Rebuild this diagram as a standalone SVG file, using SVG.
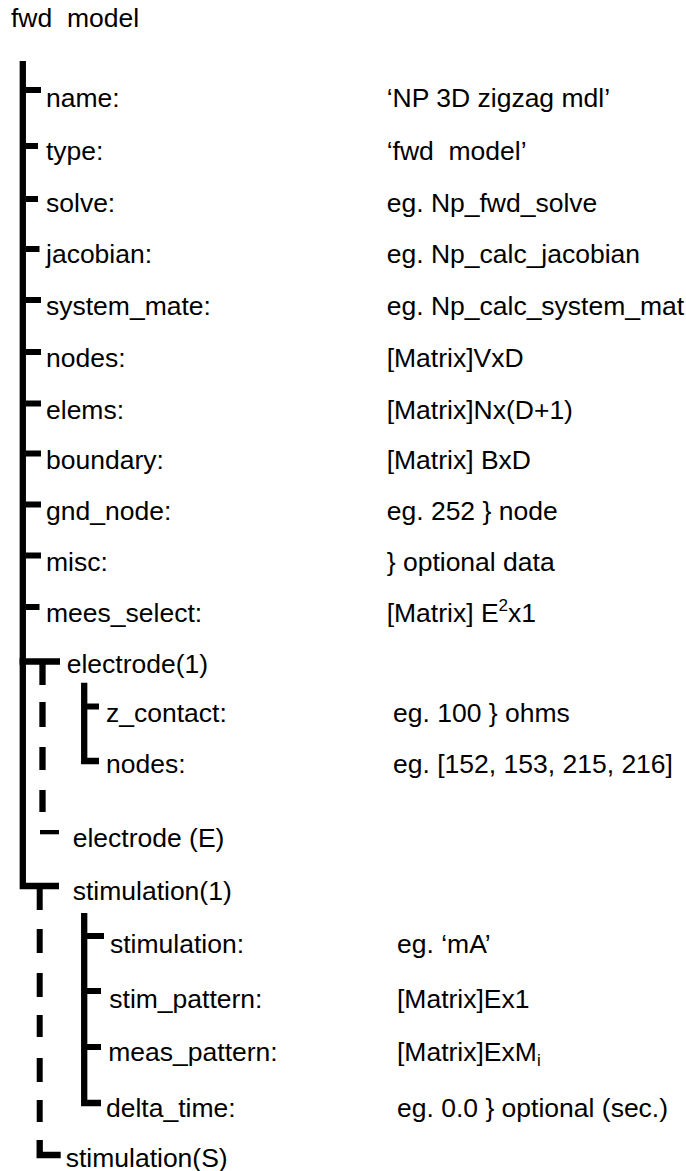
<svg xmlns="http://www.w3.org/2000/svg" width="686" height="1171" viewBox="0 0 686 1171">
  <style>
    text { font-family: "Liberation Sans", Arial, sans-serif; font-size: 26.5px; fill: #000; white-space: pre; }
    .ln { stroke: #000; stroke-width: 6.3; fill: none; stroke-linejoin: miter; stroke-linecap: butt; }
    .tk { stroke: #000; stroke-width: 6; fill: none; }
  </style>
  <rect width="686" height="1171" fill="#fff"/>

  <!-- tree lines -->
  <g id="connectors">
    <!-- main trunk ending in the stimulation(1) elbow -->
    <path class="ln" d="M22.8 61 V886 H59"/>
    <!-- field ticks off the trunk -->
    <path class="tk" d="M26 90 H41 M26 146 H38 M26 199 H38 M26 249 H39.5 M26 300 H41 M26 352 H41 M26 403.5 H41 M26 453.5 H41 M26 504.5 H41 M26 555.5 H41 M26 607 H39.5"/>
    <!-- electrode(1) tee and dashed electrode list -->
    <path class="ln" d="M19.6 661.5 H60"/>
    <path class="ln" d="M42.5 661 V685 M42.5 702 V727 M42.5 747 V770 M42.5 790 V812"/>
    <rect x="40" y="830" width="19" height="4.3" fill="#000"/>
    <!-- electrode(1) sub-fields -->
    <path class="ln" d="M84.2 682.7 V761 H99"/>
    <path class="tk" d="M87 706.5 H99"/>
    <!-- dashed stimulation list -->
    <path class="tk" d="M39.7 886 V910 M39.7 929 V953 M39.7 973 V997 M39.7 1015 V1037 M39.7 1058 V1082 M39.7 1100 V1122"/>
    <path class="ln" d="M39.7 1140 V1155 H60.7"/>
    <!-- stimulation(1) sub-fields -->
    <path class="ln" d="M84.2 913 V1103 H101"/>
    <path class="tk" d="M87 936 H104 M87 991 H101 M87 1047 H101"/>
  </g>

  <g id="root"><text x="11" y="27.3">fwd  model</text></g>

  <g id="name"><text x="46" y="106.7">name:</text><text x="386.7" y="106.7">‘NP 3D zigzag mdl’</text></g>
  <g id="type"><text x="46" y="160">type:</text><text x="386.7" y="160">‘fwd  model’</text></g>
  <g id="solve"><text x="46" y="212">solve:</text><text x="386.7" y="212">eg. Np_fwd_solve</text></g>
  <g id="jacobian"><text x="46" y="263">jacobian:</text><text x="386.7" y="263">eg. Np_calc_jacobian</text></g>
  <g id="system_mate"><text x="46" y="315">system_mate:</text><text x="386.7" y="315">eg. Np_calc_system_mat</text></g>
  <g id="nodes"><text x="46" y="367">nodes:</text><text x="386.7" y="367">[Matrix]VxD</text></g>
  <g id="elems"><text x="46" y="418.5">elems:</text><text x="386.7" y="418.5">[Matrix]Nx(D+1)</text></g>
  <g id="boundary"><text x="46" y="469">boundary:</text><text x="386.7" y="469">[Matrix] BxD</text></g>
  <g id="gnd_node"><text x="46" y="520">gnd_node:</text><text x="386.7" y="520">eg. 252 } node</text></g>
  <g id="misc"><text x="46" y="570.5">misc:</text><text x="386.7" y="570.5">} optional data</text></g>
  <g id="mees_select"><text x="46" y="622">mees_select:</text><text x="386.7" y="622">[Matrix] E<tspan font-size="17" dy="-11">2</tspan><tspan dy="11">x1</tspan></text></g>

  <g id="electrode-1"><text x="66.7" y="673">electrode(1)</text></g>
  <g id="z_contact"><text x="106" y="722">z_contact:</text><text x="393" y="722">eg. 100 } ohms</text></g>
  <g id="electrode-nodes"><text x="106" y="773">nodes:</text><text x="393" y="773">eg. [152, 153, 215, 216]</text></g>
  <g id="electrode-E"><text x="72.7" y="846.7">electrode (E)</text></g>

  <g id="stimulation-1"><text x="72.7" y="900">stimulation(1)</text></g>
  <g id="stimulation"><text x="110" y="953">stimulation:</text><text x="397" y="953">eg. ‘mA’</text></g>
  <g id="stim_pattern"><text x="109.3" y="1007.5">stim_pattern:</text><text x="397" y="1007.5">[Matrix]Ex1</text></g>
  <g id="meas_pattern"><text x="108.3" y="1061">meas_pattern:</text><text x="397" y="1061">[Matrix]ExM<tspan font-size="17" dy="5">i</tspan></text></g>
  <g id="delta_time"><text x="106" y="1117">delta_time:</text><text x="397" y="1117">eg. 0.0 } optional (sec.)</text></g>
  <g id="stimulation-S"><text x="65.7" y="1166.7">stimulation(S)</text></g>
</svg>
